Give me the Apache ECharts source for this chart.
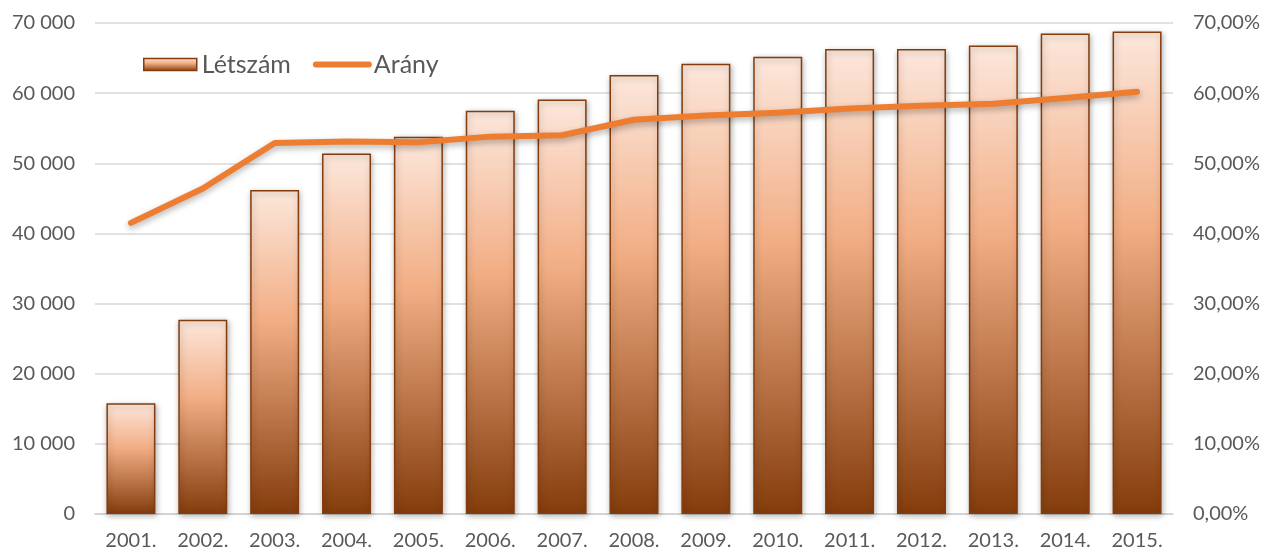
<!DOCTYPE html>
<html><head><meta charset="utf-8">
<script src="https://cdn.jsdelivr.net/npm/echarts@6/dist/echarts.min.js"></script>
<style>html,body{margin:0;padding:0;background:#fff}#c{width:1266px;height:552px}</style>
</head><body><div id="c"></div>
<script>
const years = ['2001.','2002.','2003.','2004.','2005.','2006.','2007.','2008.','2009.','2010.','2011.','2012.','2013.','2014.','2015.'];
const letszam = [15800,27700,46200,51400,53800,57500,59100,62600,64200,65200,66300,66300,66800,68500,68800];
const arany = [41.5,46.4,52.9,53.1,53.0,53.8,54.0,56.2,56.8,57.2,57.8,58.2,58.5,59.3,60.2];
const leftTicks = [0,10000,20000,30000,40000,50000,60000,70000];

const font = 'Lato, "Noto Sans", sans-serif';
const grey = '#595959';
const chart = echarts.init(document.getElementById('c'));
function mkGrad(){
  return new echarts.graphic.LinearGradient(0,0,0,1,[
    {offset:0,color:'#fce7dc'},{offset:0.4,color:'#f2ae85'},{offset:1,color:'#843c0c'}
  ]);
}
const legendText = {fontSize:25,color:grey,fontFamily:font};
chart.setOption({
  animation:false,
  textStyle:{fontFamily:font},
  legend:{
    left:138, top:47, itemGap:22, itemWidth:53, itemHeight:12,
    textStyle:legendText,
    data:[
      {name:'Létszám', icon:'rect', textStyle:legendText, itemStyle:{color:mkGrad(),borderColor:'#843c0c',borderWidth:1.5}},
      {name:'Arány', textStyle:legendText, itemStyle:{opacity:0}, lineStyle:{color:'#ed7d31',width:6,cap:'round'}}
    ]
  },
  grid:{left:95,right:93,top:23,bottom:38},
  xAxis:{
    type:'category', data:years,
    axisTick:{show:false},
    axisLine:{lineStyle:{color:'#d0d0d0',width:1.5}},
    axisLabel:{color:grey,fontSize:20,margin:17,fontFamily:font}
  },
  yAxis:[
    {type:'value',min:0,max:70000,interval:10000,
     axisLine:{show:false},axisTick:{show:false},
     splitLine:{lineStyle:{color:'#d9d9d9',width:1.5}},
     axisLabel:{color:grey,fontSize:20,margin:20,fontFamily:font,
       formatter:v=>v===0?'0':String(v).replace(/\B(?=(\d{3})+(?!\d))/g,' ')}},
    {type:'value',min:0,max:70,interval:10,
     axisLine:{show:false},axisTick:{show:false},splitLine:{show:false},
     axisLabel:{color:grey,fontSize:20,margin:20,fontFamily:font,
       formatter:v=>v.toFixed(2).replace('.',',')+'%'}}
  ],
  series:[
    {name:'Létszám',type:'bar',data:letszam,barWidth:49,
     itemStyle:{color:mkGrad(),borderColor:'#843c0c',borderWidth:1.5,
       shadowColor:'rgba(0,0,0,0.3)',shadowBlur:6,shadowOffsetX:1,shadowOffsetY:2}},
    {name:'Arány',type:'line',yAxisIndex:1,data:arany,symbol:'none',
     lineStyle:{color:'#ed7d31',width:6,cap:'round',join:'round',
       shadowColor:'rgba(0,0,0,0.3)',shadowBlur:6,shadowOffsetY:3},
     itemStyle:{color:'#ed7d31'}}
  ]
});
</script></body></html>
